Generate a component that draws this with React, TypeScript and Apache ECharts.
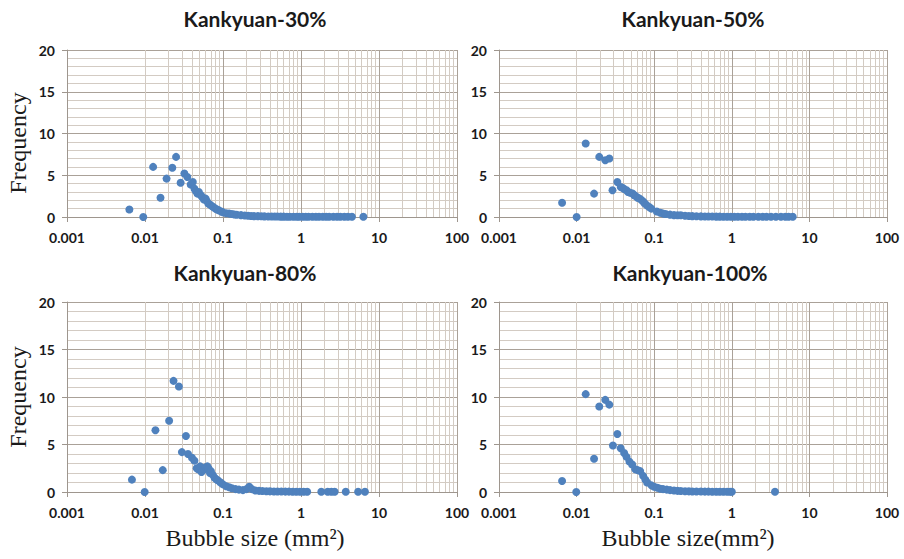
import React, { useEffect, useRef } from "react";
import * as echarts from "echarts";

// ---------- data ----------
const titles = ["Kankyuan-30%", "Kankyuan-50%", "Kankyuan-80%", "Kankyuan-100%"];
const xTickLabels = ["0.001", "0.01", "0.1", "1", "10", "100"];
const yAxisName = "Frequency";
const xNameLeft = "Bubble size (mm²)";
const xNameRight = "Bubble size(mm²)";

const sizes30 = [0.0063, 0.0095, 0.0127, 0.0158, 0.0189, 0.0224, 0.025, 0.0286, 0.032, 0.0349, 0.0385, 0.041, 0.043, 0.0447, 0.047, 0.049, 0.052, 0.054, 0.057, 0.06, 0.062, 0.065, 0.068, 0.072, 0.075, 0.08, 0.084, 0.088, 0.095, 0.1, 0.11, 0.12, 0.13, 0.14, 0.15, 0.17, 0.19, 0.21, 0.23, 0.25, 0.28, 0.31, 0.34, 0.38, 0.42, 0.46, 0.5, 0.55, 0.6, 0.66, 0.72, 0.8, 0.88, 0.95, 1.05, 1.15, 1.25, 1.4, 1.55, 1.7, 1.9, 2.1, 2.3, 2.6, 2.9, 3.2, 3.6, 4.0, 4.5, 6.3];
const freq30 = [0.9, 0, 6.0, 2.3, 4.6, 5.9, 7.2, 4.1, 5.2, 4.8, 3.9, 4.2, 3.4, 3.1, 2.8, 3.0, 2.6, 2.4, 2.1, 2.2, 1.9, 1.6, 1.5, 1.3, 1.2, 1.0, 0.9, 0.8, 0.65, 0.55, 0.45, 0.4, 0.35, 0.3, 0.27, 0.22, 0.18, 0.15, 0.12, 0.1, 0.1, 0.08, 0.07, 0.06, 0.05, 0.05, 0.05, 0.04, 0.04, 0.03, 0.03, 0.03, 0.03, 0.03, 0.03, 0.02, 0.02, 0.02, 0.02, 0.02, 0.02, 0.02, 0.02, 0.02, 0.02, 0.02, 0.02, 0.02, 0.02, 0.02];

const sizes50 = [0.0065, 0.01, 0.0131, 0.0168, 0.0196, 0.0234, 0.0264, 0.029, 0.0335, 0.037, 0.039, 0.041, 0.044, 0.046, 0.049, 0.053, 0.055, 0.058, 0.061, 0.065, 0.069, 0.073, 0.076, 0.08, 0.086, 0.092, 0.108, 0.12, 0.13, 0.14, 0.16, 0.18, 0.2, 0.22, 0.25, 0.28, 0.31, 0.35, 0.4, 0.45, 0.5, 0.56, 0.63, 0.7, 0.78, 0.87, 0.97, 1.08, 1.2, 1.35, 1.5, 1.7, 1.9, 2.2, 2.5, 2.8, 3.2, 3.7, 4.3, 4.9, 5.4, 6.1];
const freq50 = [1.7, 0, 8.8, 2.8, 7.2, 6.8, 7.0, 3.2, 4.2, 3.6, 3.5, 3.35, 3.2, 3.0, 2.9, 2.8, 2.6, 2.5, 2.3, 2.2, 2.0, 1.8, 1.6, 1.4, 1.2, 1.0, 0.65, 0.5, 0.4, 0.35, 0.28, 0.22, 0.2, 0.2, 0.15, 0.12, 0.1, 0.08, 0.07, 0.06, 0.05, 0.05, 0.04, 0.04, 0.03, 0.03, 0.03, 0.03, 0.02, 0.02, 0.02, 0.02, 0.02, 0.02, 0.02, 0.02, 0.02, 0.02, 0.02, 0.02, 0.02, 0.02];

const sizes80 = [0.0068, 0.0099, 0.0136, 0.0169, 0.0204, 0.0232, 0.0272, 0.0297, 0.0335, 0.0356, 0.04, 0.043, 0.046, 0.048, 0.051, 0.053, 0.055, 0.058, 0.06, 0.063, 0.065, 0.068, 0.07, 0.074, 0.078, 0.083, 0.087, 0.093, 0.1, 0.11, 0.12, 0.13, 0.145, 0.16, 0.18, 0.2, 0.217, 0.235, 0.26, 0.29, 0.32, 0.36, 0.4, 0.45, 0.5, 0.56, 0.63, 0.7, 0.78, 0.87, 0.97, 1.08, 1.2, 1.82, 2.2, 2.45, 2.7, 3.75, 5.4, 6.6];
const freq80 = [1.3, 0, 6.5, 2.3, 7.5, 11.7, 11.1, 4.2, 5.9, 4.0, 3.6, 3.3, 2.5, 2.4, 2.7, 2.1, 2.3, 2.4, 2.6, 2.7, 2.5, 2.0, 2.2, 1.8, 1.5, 1.3, 1.2, 1.0, 0.8, 0.6, 0.5, 0.4, 0.3, 0.25, 0.2, 0.3, 0.55, 0.3, 0.15, 0.12, 0.1, 0.08, 0.07, 0.06, 0.05, 0.05, 0.04, 0.04, 0.03, 0.03, 0.03, 0.03, 0.02, 0.02, 0.02, 0.02, 0.02, 0.02, 0.02, 0.02];

const sizes100 = [0.0065, 0.0099, 0.0131, 0.0168, 0.0196, 0.0234, 0.0264, 0.0294, 0.0335, 0.037, 0.041, 0.044, 0.048, 0.052, 0.057, 0.061, 0.066, 0.072, 0.077, 0.081, 0.092, 0.1, 0.11, 0.12, 0.13, 0.145, 0.16, 0.18, 0.2, 0.22, 0.25, 0.28, 0.31, 0.35, 0.4, 0.45, 0.5, 0.56, 0.63, 0.7, 0.78, 0.87, 0.95, 1.0, 3.6];
const freq100 = [1.16, 0, 10.3, 3.5, 9.0, 9.7, 9.2, 4.9, 6.1, 4.6, 4.1, 3.7, 3.2, 2.9, 2.4, 2.3, 2.2, 1.7, 1.3, 1.0, 0.7, 0.55, 0.45, 0.35, 0.3, 0.25, 0.2, 0.15, 0.12, 0.1, 0.08, 0.07, 0.06, 0.05, 0.05, 0.04, 0.04, 0.03, 0.03, 0.03, 0.03, 0.02, 0.02, 0.02, 0.02];

const panelSizes = [sizes30, sizes50, sizes80, sizes100];
const panelFreqs = [freq30, freq50, freq80, freq100];

// ---------- layout / style ----------
const grids = [
  { left: 67, top: 50, width: 390, height: 167 },
  { left: 499, top: 50, width: 388, height: 167 },
  { left: 67, top: 302, width: 390, height: 190 },
  { left: 499, top: 302, width: 388, height: 190 },
];
const majorColor = "#aaa198";
const minorColor = "#d3cbc3";
const dotColor = "#4f81bd";
const textColor = "#1a1a1a";
const tickFont = "Lato";

// minor log grid positions (2..9 within each decade)
const minorX: number[] = [];
for (let d = -3; d <= 1; d++) {
  for (let k = 2; k <= 9; k++) minorX.push(k * Math.pow(10, d));
}

export default function App() {
  const ref = useRef<HTMLDivElement>(null);
  useEffect(() => {
    if (!ref.current) return;
    const chart = echarts.init(ref.current, null, { renderer: "svg" });
    const xAxes = grids.map((_, i) => ({
      type: "log",
      gridIndex: i,
      logBase: 10,
      min: 0.001,
      max: 100,
      interval: 1,
      axisLine: { show: true, lineStyle: { color: "#9e968e", width: 1 } },
      axisTick: { show: true, length: 5, lineStyle: { color: "#9e968e" } },
      axisLabel: {
        margin: 13,
        fontFamily: tickFont,
        fontWeight: "bold",
        fontSize: 14,
        color: textColor,
        formatter: (v: number) => xTickLabels[Math.round(Math.log10(v)) + 3] ?? "",
      },
      splitLine: { show: true, lineStyle: { color: majorColor, width: 1 } },
      minorTick: { show: false },
      minorSplitLine: { show: false },
    }));
    const yAxes = grids.map((_, i) => ({
      type: "value",
      gridIndex: i,
      min: 0,
      max: 20,
      interval: 5,
      axisLine: { show: true, lineStyle: { color: "#9e968e", width: 1 } },
      axisTick: { show: true, length: 5, lineStyle: { color: "#9e968e" } },
      axisLabel: {
        margin: 12,
        fontFamily: tickFont,
        fontWeight: "bold",
        fontSize: 14,
        color: textColor,
      },
      splitLine: { show: true, lineStyle: { color: majorColor, width: 1 } },
      minorTick: { show: false, splitNumber: 5 },
      minorSplitLine: { show: true, lineStyle: { color: minorColor, width: 1 } },
    }));
    const series: any[] = [];
    grids.forEach((_, i) => {
      series.push({
        type: "scatter",
        xAxisIndex: i,
        yAxisIndex: i,
        data: [],
        z: 1,
        silent: true,
        markLine: {
          silent: true,
          z: 1,
          symbol: "none",
          label: { show: false },
          emphasis: { disabled: true },
          lineStyle: { color: minorColor, width: 1, type: "solid" },
          data: minorX.map((v) => ({ xAxis: v })),
        },
      });
      series.push({
        type: "scatter",
        xAxisIndex: i,
        yAxisIndex: i,
        z: 3,
        symbol: "circle",
        symbolSize: 8,
        itemStyle: { color: dotColor, opacity: 1 },
        data: panelSizes[i].map((s, j) => [s, panelFreqs[i][j]]),
      });
    });
    const titlePos = [
      [255, 18],
      [693, 18],
      [245, 272],
      [690, 272],
    ];
    const graphic: any[] = [];
    titles.forEach((t, i) => {
      graphic.push({
        type: "text",
        x: titlePos[i][0],
        y: titlePos[i][1],
        style: {
          text: t,
          font: "bold 21px Lato",
          fill: textColor,
          align: "center",
          verticalAlign: "middle",
        },
      });
    });
    [143, 397].forEach((cy) => {
      graphic.push({
        type: "text",
        x: 18,
        y: cy,
        rotation: Math.PI / 2,
        style: {
          text: yAxisName,
          font: "24px 'Liberation Serif'",
          fill: textColor,
          align: "center",
          verticalAlign: "middle",
        },
      });
    });
    graphic.push({
      type: "text",
      x: 255,
      y: 538,
      style: { text: xNameLeft, font: "24px 'Liberation Serif'", fill: textColor, align: "center", verticalAlign: "middle" },
    });
    graphic.push({
      type: "text",
      x: 688,
      y: 538,
      style: { text: xNameRight, font: "24px 'Liberation Serif'", fill: textColor, align: "center", verticalAlign: "middle" },
    });

    chart.setOption({
      animation: false,
      backgroundColor: "#ffffff",
      grid: grids.map((g) => ({ ...g, containLabel: false })),
      xAxis: xAxes,
      yAxis: yAxes,
      series,
      graphic,
    });
    return () => chart.dispose();
  }, []);
  return (
    <div
      ref={ref}
      style={{ position: "fixed", left: 0, top: 0, width: 904, height: 559, background: "#fff" }}
    />
  );
}
